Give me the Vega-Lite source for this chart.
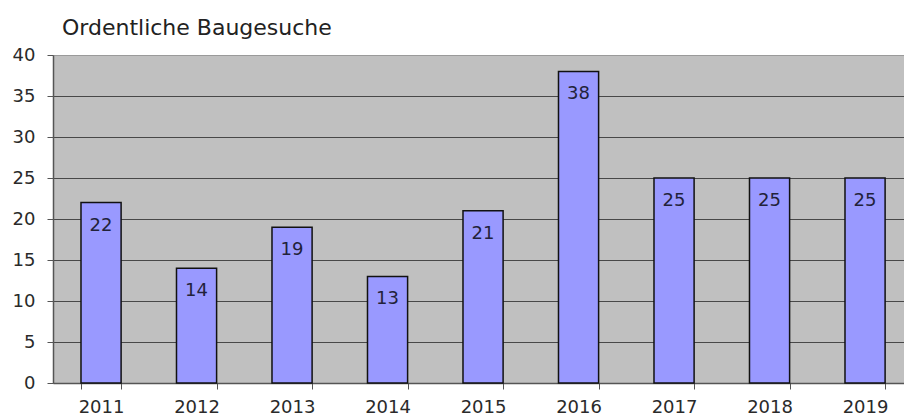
{
  "$schema": "https://vega.github.io/schema/vega-lite/v6.json",
  "autosize": {"type": "none"},
  "padding": {"left": 53, "top": 55, "right": 0, "bottom": 33},
  "width": 851,
  "height": 328,
  "title": {
    "text": "Ordentliche Baugesuche",
    "anchor": "start",
    "frame": "group",
    "dx": 9,
    "offset": 6,
    "font": "DejaVu Sans",
    "fontSize": 22,
    "fontWeight": "normal",
    "color": "#222222"
  },
  "data": {
    "values": [
      {"jahr": "2011", "anzahl": 22},
      {"jahr": "2012", "anzahl": 14},
      {"jahr": "2013", "anzahl": 19},
      {"jahr": "2014", "anzahl": 13},
      {"jahr": "2015", "anzahl": 21},
      {"jahr": "2016", "anzahl": 38},
      {"jahr": "2017", "anzahl": 25},
      {"jahr": "2018", "anzahl": 25},
      {"jahr": "2019", "anzahl": 25}
    ]
  },
  "config": {
    "view": {"fill": "#c0c0c0", "stroke": null},
    "axis": {
      "labelFont": "DejaVu Sans",
      "labelFontSize": 18,
      "labelColor": "#2a2a2a",
      "domainColor": "#555555",
      "tickColor": "#555555",
      "title": null
    }
  },
  "encoding": {
    "x": {
      "field": "jahr",
      "type": "ordinal",
      "scale": {"paddingInner": 0.58, "paddingOuter": 0.2455, "align": 0.597},
      "axis": {"labelAngle": 0, "tickBand": "extent", "tickSize": 6, "labelPadding": 9, "grid": false, "domainWidth": 1.5}
    },
    "y": {
      "field": "anzahl",
      "type": "quantitative",
      "scale": {"domain": [0, 40], "nice": false},
      "axis": {
        "values": [0, 5, 10, 15, 20, 25, 30, 35, 40],
        "tickSize": 6,
        "labelPadding": 12,
        "grid": true,
        "gridWidth": 1.2,
        "gridColor": {"condition": {"test": "datum.value == 40", "value": "#9a9a9a"}, "value": "#484848"},
        "domainWidth": 1.5
      }
    }
  },
  "layer": [
    {"mark": {"type": "bar", "fill": "#9999ff", "stroke": "#111111", "strokeWidth": 1.5}},
    {
      "mark": {"type": "text", "baseline": "top", "dy": 14, "font": "DejaVu Sans", "fontSize": 18, "color": "#22223a"},
      "encoding": {"text": {"field": "anzahl", "type": "quantitative"}}
    }
  ]
}
